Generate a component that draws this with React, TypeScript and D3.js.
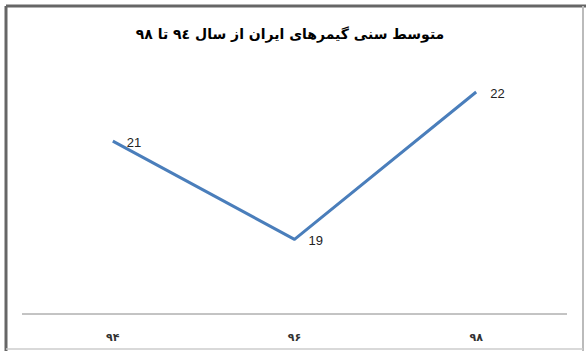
import React from "react";
import * as d3 from "d3";

const categories = ["۹۴", "۹۶", "۹۸"];
const values = [21, 19, 22];
const valueLabels = ["21", "19", "22"];
const title = "متوسط سنی گیمرهای ایران از سال ۹٤ تا ۹۸";

const W = 586;
const H = 351;

export default function App() {
  const x = d3.scaleBand<string>().domain(categories).range([22, 567]);
  const y = d3.scaleLinear().domain([17.5, 22]).range([313, 92]);
  const cx = (c: string) => (x(c) as number) + x.bandwidth() / 2;
  const line = d3
    .line<number>()
    .x((_, i) => cx(categories[i]))
    .y((d) => y(d));

  return (
    <svg
      width={W}
      height={H}
      style={{ position: "absolute", left: 0, top: 0, background: "#fff" }}
    >
      <rect x={0} y={0} width={W} height={H} fill="#fff" />
      {/* outer frame */}
      <line x1={6} y1={6} x2={6} y2={H} stroke="#666" strokeWidth={3} />
      <line x1={6} y1={6} x2={W} y2={6} stroke="#666" strokeWidth={3} />
      <line x1={583} y1={6} x2={583} y2={H} stroke="#bbb" strokeWidth={2} />
      <line x1={6} y1={349} x2={583} y2={349} stroke="#ccc" strokeWidth={1.5} />

      <text
        x={290}
        y={39}
        textAnchor="middle"
        direction="rtl"
        fontFamily="'DejaVu Sans', sans-serif"
        fontWeight="bold"
        fontSize={14}
        fill="#000"
      >
        {title}
      </text>

      {/* axis line */}
      <line x1={22} x2={567} y1={314} y2={314} stroke="#888" strokeWidth={1} />
      {categories.map((c) => (
        <text
          key={c}
          x={cx(c)}
          y={341}
          textAnchor="middle"
          fontFamily="'DejaVu Sans', sans-serif"
          fontWeight="bold"
          fontSize={11}
          fill="#333"
        >
          {c}
        </text>
      ))}

      <path
        d={line(values) || ""}
        fill="none"
        stroke="#4A7EBB"
        strokeWidth={3}
        strokeLinejoin="round"
      />
      {values.map((v, i) => (
        <text
          key={i}
          x={cx(categories[i]) + 14}
          y={y(v) + 6}
          fontFamily="'Liberation Sans', Arial, sans-serif"
          fontSize={13}
          fill="#222"
        >
          {valueLabels[i]}
        </text>
      ))}
    </svg>
  );
}
